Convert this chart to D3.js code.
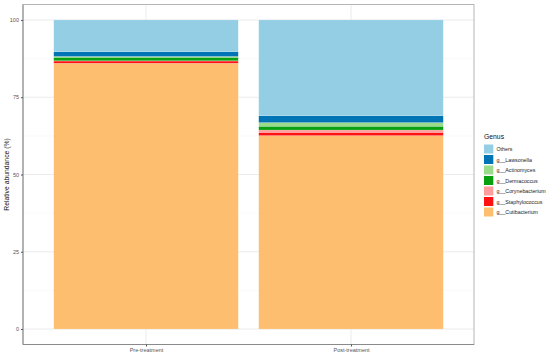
<!DOCTYPE html>
<html>
<head>
<meta charset="utf-8">
<script src="https://cdn.jsdelivr.net/npm/d3@7"></script>
<style>
  body { margin: 0; background: #fff; }
  svg { font-family: "Liberation Sans", Arial, sans-serif; }
</style>
</head>
<body>
<div id="chart"></div>
<script>
// Data (relative abundance, %)
const groups = ["Pre-treatment", "Post-treatment"];
const genera = ["g__Cutibacterium", "g__Staphylococcus", "g__Corynebacterium",
                "g__Dermacoccus", "g__Actinomyces", "g__Lawsonella", "Others"];
const preValues  = [86.0, 0.7, 0.1, 1.1, 0.3, 1.5, 10.3];
const postValues = [62.6, 1.0, 0.8, 1.2, 1.2, 2.2, 31.0];
const genusColors = ["#FDBF6F", "#FF1111", "#FF9C9C", "#08A010", "#9BDC8B", "#0074B4", "#94CEE4"];
const yTicks = [0, 25, 50, 75, 100];

const width = 550, height = 356;
const panel = { left: 23, right: 474, top: 4.5, bottom: 344.5 };

const svg = d3.select("#chart").append("svg")
    .attr("width", width)
    .attr("height", height);

// Scales: ggplot-style expansion
const x = d3.scaleLinear().domain([0.4, 2.6]).range([panel.left, panel.right]);
const y = d3.scaleLinear().domain([-5, 105]).range([panel.bottom, panel.top]);
const color = d3.scaleOrdinal().domain(genera).range(genusColors);

// Stack rows
const rows = groups.map((g, i) => {
    const vals = i === 0 ? preValues : postValues;
    const row = { group: g, idx: i + 1 };
    genera.forEach((k, j) => row[k] = vals[j]);
    return row;
});
const series = d3.stack().keys(genera)(rows);

// Grid lines
const grid = svg.append("g");
d3.range(12.5, 100, 25).forEach(v => {
    grid.append("line")
        .attr("x1", panel.left).attr("x2", panel.right)
        .attr("y1", y(v)).attr("y2", y(v))
        .attr("stroke", "#F2F2F2").attr("stroke-width", 0.5);
});
yTicks.forEach(v => {
    grid.append("line")
        .attr("x1", panel.left).attr("x2", panel.right)
        .attr("y1", y(v)).attr("y2", y(v))
        .attr("stroke", "#EBEBEB").attr("stroke-width", 1);
});
rows.forEach(r => {
    grid.append("line")
        .attr("x1", x(r.idx)).attr("x2", x(r.idx))
        .attr("y1", panel.top).attr("y2", panel.bottom)
        .attr("stroke", "#EBEBEB").attr("stroke-width", 1);
});

// Bars
const barW = x(1.45) - x(0.55);
svg.append("g")
    .selectAll("g")
    .data(series)
    .join("g")
        .attr("fill", d => color(d.key))
    .selectAll("rect")
    .data(d => d)
    .join("rect")
        .attr("x", d => x(d.data.idx) - barW / 2)
        .attr("width", barW)
        .attr("y", d => y(d[1]))
        .attr("height", d => y(d[0]) - y(d[1]))
        .attr("stroke", "#fff")
        .attr("stroke-opacity", 0.35)
        .attr("stroke-width", 0.4);

// Panel border
svg.append("rect")
    .attr("x", panel.left).attr("y", panel.top)
    .attr("width", panel.right - panel.left)
    .attr("height", panel.bottom - panel.top)
    .attr("fill", "none")
    .attr("stroke", "#B5B5B5")
    .attr("stroke-width", 1);

// Axis lines (left & bottom darker)
svg.append("line")
    .attr("x1", panel.left).attr("x2", panel.left)
    .attr("y1", panel.top).attr("y2", panel.bottom)
    .attr("stroke", "#8A8A8A");
svg.append("line")
    .attr("x1", panel.left).attr("x2", panel.right)
    .attr("y1", panel.bottom).attr("y2", panel.bottom)
    .attr("stroke", "#8A8A8A");

// Y axis
const yAxis = svg.append("g")
    .attr("transform", `translate(${panel.left},0)`)
    .call(d3.axisLeft(y).tickValues(yTicks).tickSize(2).tickPadding(2));
yAxis.select(".domain").remove();
yAxis.selectAll("line").attr("stroke", "#555");
yAxis.selectAll("text").attr("fill", "#555").attr("font-size", 5.5).attr("font-family", "Liberation Sans, Arial, sans-serif");

// X axis
const xAxis = svg.append("g")
    .attr("transform", `translate(0,${panel.bottom})`)
    .call(d3.axisBottom(x).tickValues([1, 2]).tickFormat(d => groups[d - 1]).tickSize(2).tickPadding(2));
xAxis.select(".domain").remove();
xAxis.selectAll("line").attr("stroke", "#555");
xAxis.selectAll("text").attr("fill", "#555").attr("font-size", 5.5).attr("font-family", "Liberation Sans, Arial, sans-serif");

// Y title
svg.append("text")
    .attr("transform", `translate(9,${(panel.top + panel.bottom) / 2}) rotate(-90)`)
    .attr("text-anchor", "middle")
    .attr("font-size", 6.8)
    .attr("fill", "#111")
    .text("Relative abundance (%)");

// Legend
const legend = svg.append("g").attr("transform", "translate(484,134)");
legend.append("text")
    .attr("x", 0).attr("y", 5)
    .attr("font-size", 6.8)
    .attr("fill", "#111")
    .text("Genus");
const legendItems = genera.slice().reverse();
const item = legend.selectAll("g.item")
    .data(legendItems)
    .join("g")
        .attr("class", "item")
        .attr("transform", (d, i) => `translate(0,${10.5 + i * 10.5})`);
item.append("rect")
    .attr("width", 9.3).attr("height", 9)
    .attr("fill", d => color(d));
item.append("text")
    .attr("x", 12.5).attr("y", 6.5)
    .attr("font-size", 5.3)
    .attr("fill", "#222")
    .text(d => d);
</script>
</body>
</html>
